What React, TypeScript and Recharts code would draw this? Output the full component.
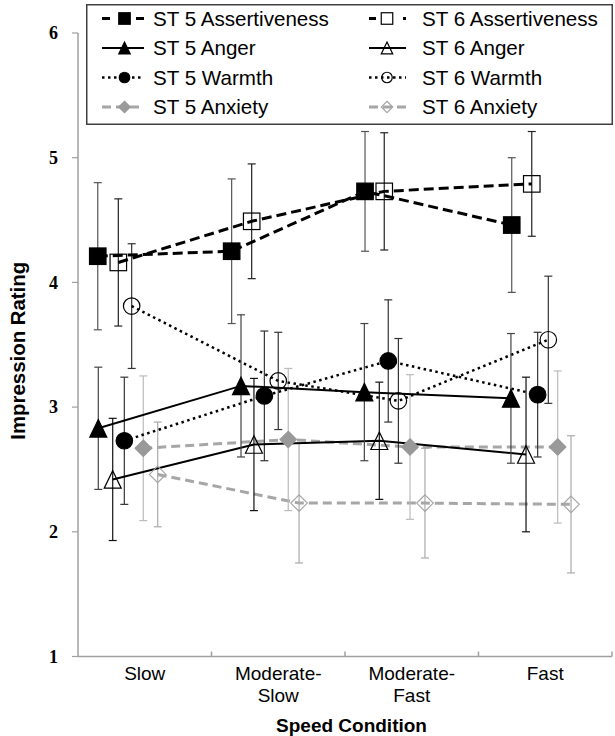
import React from 'react';
import { LineChart, Line, XAxis, YAxis, ErrorBar, Legend } from 'recharts';

// ---------- data ----------
const categories = ['Slow', 'Moderate-Slow', 'Moderate-Fast', 'Fast'];
const yTicks = [1, 2, 3, 4, 5, 6];

const assertST5 = [4.21, 4.25, 4.73, 4.46];
const assertST5Err = [0.59, 0.58, 0.48, 0.54];
const assertST6 = [4.16, 4.49, 4.73, 4.79];
const assertST6Err = [0.51, 0.46, 0.47, 0.42];
const angerST5 = [2.83, 3.17, 3.12, 3.07];
const angerST5Err = [0.49, 0.57, 0.55, 0.52];
const angerST6 = [2.42, 2.7, 2.73, 2.62];
const angerST6Err = [0.49, 0.53, 0.47, 0.62];
const warmthST5 = [2.73, 3.09, 3.37, 3.1];
const warmthST5Err = [0.51, 0.52, 0.49, 0.5];
const warmthST6 = [3.81, 3.21, 3.05, 3.54];
const warmthST6Err = [0.5, 0.39, 0.5, 0.51];
const anxietyST5 = [2.67, 2.74, 2.68, 2.68];
const anxietyST5Err = [0.58, 0.57, 0.58, 0.61];
const anxietyST6 = [2.46, 2.23, 2.23, 2.22];
const anxietyST6Err = [0.42, 0.48, 0.44, 0.55];

// ---------- layout (dodge within each category, fraction of category width) ----------
const DODGE: Record<string, number[]> = {
  a5: [0.148, 0.151, 0.15, 0.249],
  a6: [0.302, 0.301, 0.294, 0.399],
  g5: [0.152, 0.221, 0.145, 0.243],
  g6: [0.26, 0.318, 0.257, 0.356],
  w5: [0.347, 0.396, 0.324, 0.443],
  w6: [0.402, 0.5, 0.4, 0.523],
  x5: [0.489, 0.575, 0.487, 0.593],
  x6: [0.597, 0.656, 0.599, 0.693],
};

type Kind = 'square' | 'triangle' | 'circle' | 'diamond';
interface S {
  id: string;
  name: string;
  values: number[];
  errors: number[];
  stroke: string;
  width: number;
  dash?: string;
  kind: Kind;
  filled: boolean;
  markerColor: string;
  errColor: string;
  legendDash?: string;
}

const AXIS = '#a0a0a0';
const GRAY = '#a6a6a6';
const SANS = "'Liberation Sans', Arial, sans-serif";

const SERIES: S[] = [
  { id: 'a5', name: 'ST 5 Assertiveness', values: assertST5, errors: assertST5Err, stroke: '#000', width: 3, dash: '10 5', kind: 'square', filled: true, markerColor: '#000', errColor: '#555', legendDash: '8 26' },
  { id: 'a6', name: 'ST 6 Assertiveness', values: assertST6, errors: assertST6Err, stroke: '#000', width: 3, dash: '10 5', kind: 'square', filled: false, markerColor: '#000', errColor: '#222', legendDash: '7 27' },
  { id: 'g5', name: 'ST 5 Anger', values: angerST5, errors: angerST5Err, stroke: '#000', width: 2, kind: 'triangle', filled: true, markerColor: '#000', errColor: '#444' },
  { id: 'g6', name: 'ST 6 Anger', values: angerST6, errors: angerST6Err, stroke: '#000', width: 2, kind: 'triangle', filled: false, markerColor: '#000', errColor: '#111' },
  { id: 'w5', name: 'ST 5 Warmth', values: warmthST5, errors: warmthST5Err, stroke: '#000', width: 2.5, dash: '2.5 3.5', kind: 'circle', filled: true, markerColor: '#000', errColor: '#333' },
  { id: 'w6', name: 'ST 6 Warmth', values: warmthST6, errors: warmthST6Err, stroke: '#000', width: 2.5, dash: '2.5 3.5', kind: 'circle', filled: false, markerColor: '#000', errColor: '#333' },
  { id: 'x5', name: 'ST 5 Anxiety', values: anxietyST5, errors: anxietyST5Err, stroke: GRAY, width: 3, dash: '9 5', kind: 'diamond', filled: true, markerColor: '#999', errColor: '#bbb' },
  { id: 'x6', name: 'ST 6 Anxiety', values: anxietyST6, errors: anxietyST6Err, stroke: GRAY, width: 3, dash: '9 5', kind: 'diamond', filled: false, markerColor: GRAY, errColor: '#aaa' },
];

const DRAW_ORDER = ['x6', 'x5', 'w6', 'w5', 'g6', 'g5', 'a6', 'a5'];

function Marker({ cx, cy, kind, filled, color, size }: { cx: number; cy: number; kind: Kind; filled: boolean; color: string; size: number }) {
  const h = size / 2;
  const fill = filled ? color : 'none';
  const sw = 1.2;
  if (cx == null || cy == null || isNaN(cx) || isNaN(cy)) return null;
  switch (kind) {
    case 'square':
      return <rect x={cx - h} y={cy - h} width={size} height={size} fill={fill} stroke={color} strokeWidth={sw} />;
    case 'circle':
      return <circle cx={cx} cy={cy} r={h} fill={fill} stroke={color} strokeWidth={sw} />;
    case 'triangle':
      return <polygon points={`${cx},${cy - h * 1.03} ${cx + h},${cy + h * 1.03} ${cx - h},${cy + h * 1.03}`} fill={fill} stroke={color} strokeWidth={sw} />;
    case 'diamond':
    default:
      return <polygon points={`${cx},${cy - h} ${cx + h},${cy} ${cx},${cy + h} ${cx - h},${cy}`} fill={fill} stroke={color} strokeWidth={sw} />;
  }
}

const XTick = (props: any) => {
  const { x, y, payload } = props;
  const v = payload.value as number;
  if (Number.isInteger(v)) {
    if (v === 0) return <g />;
    return <line x1={x} x2={x} y1={y} y2={y - 5} stroke={AXIS} strokeWidth={1.5} />;
  }
  const label = categories[Math.floor(v)];
  const idx = label.indexOf('-');
  const lines = idx >= 0 ? [label.slice(0, idx + 1), label.slice(idx + 1)] : [label];
  return (
    <text textAnchor="middle" fontFamily={SANS} fontSize={19} fill="#000">
      {lines.map((l, i) => (
        <tspan key={i} x={x} y={y + 23 + i * 22}>
          {l}
        </tspan>
      ))}
    </text>
  );
};

const LegendBox = () => {
  const order = ['a5', 'a6', 'g5', 'g6', 'w5', 'w6', 'x5', 'x6'];
  const rows = [14.5, 44, 73.5, 103];
  const cols = [
    { l1: 16, l2: 58, m: 38.5, t: 67 },
    { l1: 283, l2: 320, m: 301, t: 336 },
  ];
  return (
    <svg width={527} height={121} style={{ display: 'block' }}>
      <rect x={0.75} y={0.75} width={525.5} height={119.5} fill="#fff" stroke="#404040" strokeWidth={1.5} />
      {order.map((id, i) => {
        const s = SERIES.find((q) => q.id === id)!;
        const c = cols[i % 2];
        const ry = rows[Math.floor(i / 2)];
        return (
          <g key={id}>
            <line x1={c.l1} x2={c.l2} y1={ry} y2={ry} stroke={s.stroke} strokeWidth={s.width} strokeDasharray={s.legendDash || s.dash} />
            <Marker cx={c.m} cy={ry} kind={s.kind} filled={s.filled} color={s.markerColor} size={s.kind === 'circle' ? 10.5 : 11.5} />
            <text x={c.t} y={ry + 7.3} fontFamily={SANS} fontSize={20.6} fill="#000">
              {s.name}
            </text>
          </g>
        );
      })}
    </svg>
  );
};

export default function App() {
  return (
    <div>
      <style>{'html,body{margin:0;padding:0;overflow:hidden;background:#fff;}'}</style>
      <LineChart width={615} height={736} margin={{ top: 33, right: 3, left: 0, bottom: 0 }}>
        <XAxis
          type="number"
          dataKey="x"
          domain={[0, 4]}
          allowDataOverflow
          ticks={[0.5, 1, 1.5, 2, 2.5, 3, 3.5, 4]}
          interval={0}
          tick={<XTick />}
          tickLine={false}
          tickSize={0}
          tickMargin={0}
          height={79.5}
          axisLine={{ stroke: AXIS, strokeWidth: 1.5 }}
          label={{
            content: (p: any) => {
              const vb = p.viewBox;
              return (
                <text x={vb.x + vb.width / 2 + 6.5} y={vb.y + vb.height - 4.5} textAnchor="middle" fontFamily={SANS} fontWeight="bold" fontSize={19} fill="#000">
                  Speed Condition
                </text>
              );
            },
          }}
        />
        <YAxis
          type="number"
          domain={[1, 6]}
          allowDataOverflow
          ticks={yTicks}
          interval={0}
          width={78}
          tickSize={6}
          tickMargin={14}
          tickLine={{ stroke: AXIS, strokeWidth: 1.2 }}
          axisLine={{ stroke: AXIS, strokeWidth: 1.5 }}
          tick={{ fontFamily: "'Liberation Serif', 'Times New Roman', serif", fontWeight: 'bold', fontSize: 18, fill: '#000' }}
          label={{
            content: (p: any) => {
              const vb = p.viewBox;
              const cx = vb.x + 18;
              const cy = vb.y + vb.height / 2 + 6;
              return (
                <text x={cx} y={cy} transform={`rotate(-90 ${cx} ${cy})`} textAnchor="middle" dominantBaseline="central" fontFamily={SANS} fontWeight="bold" fontSize={20.4} fill="#000">
                  Impression Rating
                </text>
              );
            },
          }}
        />
        <Legend
          layout="vertical"
          align="center"
          verticalAlign="middle"
          content={() => <LegendBox />}
          wrapperStyle={{ position: 'absolute', left: 86, top: 4, width: 527, height: 121 }}
        />
        {DRAW_ORDER.map((id) => {
          const s = SERIES.find((q) => q.id === id)!;
          const data = s.values.map((v, i) => ({ x: i + DODGE[id][i], y: v, err: s.errors[i] }));
          return (
            <Line
              key={id}
              data={data}
              dataKey="y"
              name={s.name}
              type="linear"
              stroke={s.stroke}
              strokeWidth={s.width}
              strokeDasharray={s.dash}
              isAnimationActive={false}
              activeDot={false}
              legendType="none"
              dot={(p: any) => (
                <Marker key={`${id}-${p.index}`} cx={p.cx} cy={p.cy} kind={s.kind} filled={s.filled} color={s.markerColor} size={s.kind === 'triangle' ? 17 : 16.5} />
              )}
            >
              <ErrorBar dataKey="err" direction="y" width={4} stroke={s.errColor} strokeWidth={1.2} />
            </Line>
          );
        })}
      </LineChart>
    </div>
  );
}
